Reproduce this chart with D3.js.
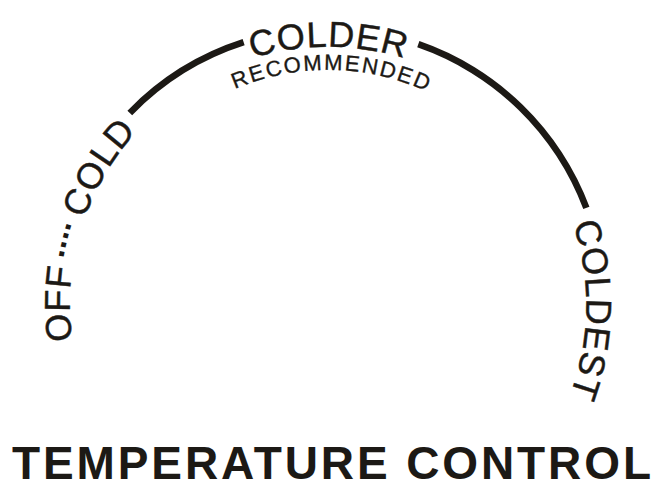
<!DOCTYPE html>
<html>
<head>
<meta charset="utf-8">
<script src="https://cdn.jsdelivr.net/npm/d3@7"></script>
<style>
  html, body { margin: 0; padding: 0; background: #ffffff; }
  svg { display: block; }
  text { font-family: "Liberation Sans", Arial, Helvetica, sans-serif; fill: #1c1915; }
</style>
</head>
<body>
<script>
// ---- data ----
const arcStartDeg = [-45.9, 19.1];
const arcEndDeg   = [-17.8, 69.4];
const outerLabels   = ["OFF", "....", "COLD", "COLDER", "COLDEST"];
const outerLabelDeg = [-89.8, -76.2, -59.2, 0, 90.9];
const innerLabels   = ["RECOMMENDED"];
const innerLabelDeg = [0.6];
const titleText = "TEMPERATURE CONTROL";

// ---- layout ----
const W = 662, H = 482;
const cx = 328, cy = 305;
const arcR = 276, arcW = 6.6;
const outerCenterR = 271, outerSize = 36, outerLS = 0.8;
const innerCenterR = 243, innerSize = 22, innerLS = 2;
const ink = "#1c1915";

const svg = d3.select("body").append("svg")
  .attr("width", W).attr("height", H);

const rad = d => d * Math.PI / 180;

// arc segments
const arcGen = d3.arc()
  .innerRadius(arcR - arcW / 2)
  .outerRadius(arcR + arcW / 2);

svg.append("g")
  .attr("transform", `translate(${cx},${cy})`)
  .selectAll("path")
  .data(arcStartDeg.map((s, i) => ({ startAngle: rad(s), endAngle: rad(arcEndDeg[i]) })))
  .join("path")
  .attr("d", arcGen)
  .attr("fill", ink);

// clockwise full-circle path starting at bottom
function circlePath(r) {
  return `M${cx},${cy + r} A${r},${r} 0 1 1 ${cx},${cy - r} A${r},${r} 0 1 1 ${cx},${cy + r}`;
}
const defs = svg.append("defs");

function addRing(id, r) {
  defs.append("path").attr("id", id).attr("d", circlePath(r));
  return d3.scaleLinear().domain([-180, 180]).range([0, 2 * Math.PI * r]);
}

// outer labels (baseline placed so cap centre sits on outerCenterR)
const outerBase = outerCenterR - 0.358 * outerSize;
const outerScale = addRing("ringOuter", outerBase);
// dots are bold periods, centred on the ring
const dotBase = outerCenterR - 0.07 * 33;
const dotScale = addRing("ringDots", dotBase);

outerLabels.forEach((lab, i) => {
  const isDots = lab === "....";
  const sc = isDots ? dotScale : outerScale;
  const ls = isDots ? 0 : outerLS;
  svg.append("text")
    .attr("font-size", isDots ? 33 : outerSize)
    .attr("font-weight", isDots ? "bold" : "normal")
    .attr("letter-spacing", ls)
    .attr("stroke", ink)
    .attr("stroke-width", isDots ? 0 : 0.45)
    .append("textPath")
    .attr("href", isDots ? "#ringDots" : "#ringOuter")
    .attr("startOffset", sc(outerLabelDeg[i]) + ls / 2)
    .attr("text-anchor", "middle")
    .text(lab);
});

// inner labels
const innerBase = innerCenterR - 0.358 * innerSize;
const innerScale = addRing("ringInner", innerBase);
innerLabels.forEach((lab, i) => {
  svg.append("text")
    .attr("font-size", innerSize)
    .attr("letter-spacing", innerLS)
    .attr("stroke", ink)
    .attr("stroke-width", 0.35)
    .append("textPath")
    .attr("href", "#ringInner")
    .attr("startOffset", innerScale(innerLabelDeg[i]) + innerLS / 2)
    .attr("text-anchor", "middle")
    .text(lab);
});

// title
svg.append("text")
  .attr("x", 12)
  .attr("y", 479)
  .attr("font-size", 46)
  .attr("font-weight", "bold")
  .attr("textLength", 639)
  .attr("lengthAdjust", "spacing")
  .style("white-space", "pre")
  .text(titleText);
</script>
</body>
</html>
